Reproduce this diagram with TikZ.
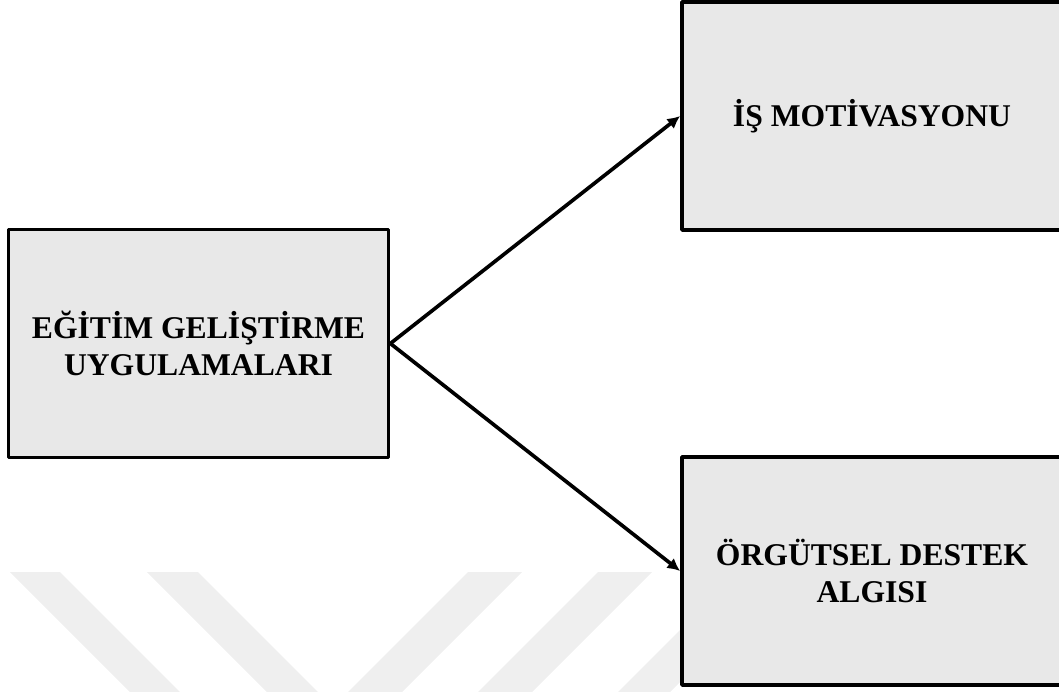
\documentclass[tikz,border=0pt]{standalone}
\usepackage{fontspec}
\setmainfont{Liberation Serif}
\usetikzlibrary{arrows.meta}
\definecolor{boxgray}{RGB}{232,232,232}
\definecolor{markgray}{RGB}{239,239,239}
\begin{document}
\begin{tikzpicture}[x=0.025cm, y=-0.025cm, >={Latex[length=9pt,width=9pt]},
                    main node/.style={rectangle,draw,fill=boxgray,line width=2.6pt,line join=round,
                                      minimum width=9.5cm,minimum height=5.7cm,align=center,
                                      font=\fontsize{22.5}{26}\selectfont\bfseries}]

  \useasboundingbox (0,0) rectangle (1059,691);
  \clip (0,0) rectangle (1059,691);

  % watermark in the back
  \fill[markgray] (10,572) -- (60,572) -- (208,720) -- (158,720) -- cycle;
  \fill[markgray] (147,572) -- (198,572) -- (346,720) -- (295,720) -- cycle;
  \fill[markgray] (468,572) -- (522,572) -- (374,720) -- (320,720) -- cycle;
  \fill[markgray] (598,572) -- (652,572) -- (504,720) -- (450,720) -- cycle;
  \fill[markgray] (738,572) -- (790,572) -- (642,720) -- (590,720) -- cycle;

  \node[main node] (egitim) at (198.5,343.5) {EĞİTİM GELİŞTİRME\\UYGULAMALARI};
  \node[main node] (motiv) at (872,116) {İŞ MOTİVASYONU};
  \node[main node] (destek) at (872,571) {ÖRGÜTSEL DESTEK\\ALGISI};

  \path[->, line width=2.6pt]

    (egitim.east) edge (motiv.west)
                  edge (destek.west);

\end{tikzpicture}
\end{document}
